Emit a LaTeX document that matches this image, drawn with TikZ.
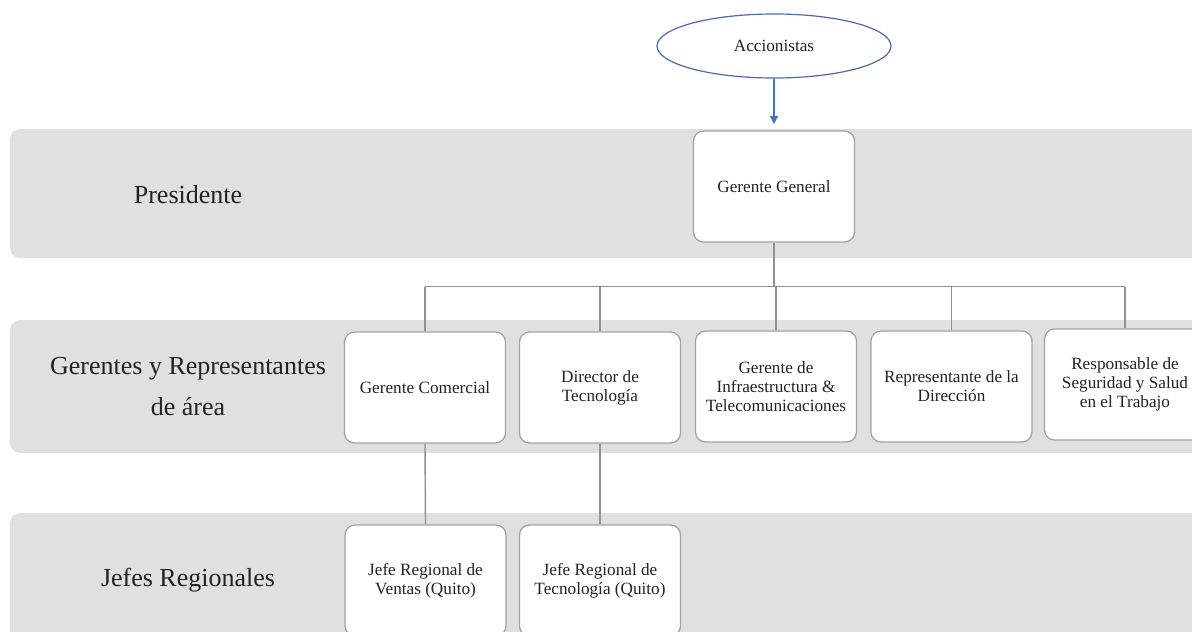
\documentclass[tikz,border=0pt]{standalone}
\usepackage{fontspec}
\setmainfont{Liberation Serif}
\usetikzlibrary{shapes.geometric,arrows.meta}
\definecolor{bandgray}{HTML}{E0E0E0}
\definecolor{boxborder}{HTML}{A3A3A3}
\definecolor{connline}{HTML}{909090}
\definecolor{ellblue}{HTML}{4A6AAA}
\definecolor{arrblue}{HTML}{4472C4}
\definecolor{txt}{HTML}{222222}
\begin{document}
\begin{tikzpicture}[x=1pt,y=-1pt,
  band/.style={fill=bandgray,rounded corners=10pt},
  orgbox/.style={draw=boxborder,line width=1.3pt,fill=white,rounded corners=10pt,
    minimum width=161pt,minimum height=111pt,inner sep=2pt,align=center,
    text=txt,font=\fontsize{17.2}{19}\selectfont},
  lab/.style={text=txt,align=center,font=\fontsize{26}{40}\selectfont},
  conn/.style={draw=connline,line width=1.4pt},
  ell/.style={ellipse,draw=ellblue,line width=1.2pt,minimum width=234pt,minimum height=64pt,
    inner sep=0pt,text=txt,font=\fontsize{17.2}{19}\selectfont}]
\useasboundingbox (0,0) rectangle (1192,632);
% bands
\fill[band] (10,129) rectangle (1215,258);
\fill[band] (10,320) rectangle (1215,453);
\fill[band] (10,513) rectangle (1215,660);
% left labels
\node[lab,anchor=base] (lpres) at (188,203) {Presidente};
\node[lab,anchor=base] (lger1) at (188,374) {Gerentes y Representantes};
\node[lab,anchor=base] (lger2) at (188,415) {de área};
\node[lab,anchor=base] (ljef) at (188,586) {Jefes Regionales};
% top
\node[ell] (acc) at (774,46) {Accionistas};
\node[orgbox] (gg) at (774,186.5) {Gerente General};
\draw[arrblue,line width=1.2pt,-{Triangle[length=8pt,width=8pt]}] (acc.south) -- (gg.north |- 0,124);
% level 2
\node[orgbox] (gc) at (425,387.5) {Gerente Comercial};
\node[orgbox] (dt) at (600,387.5) {Director de\\Tecnología};
\node[orgbox] (gi) at (776,386.5) {Gerente de\\Infraestructura \&\\Telecomunicaciones};
\node[orgbox] (rd) at (951.5,386.5) {Representante de la\\Dirección};
\node[orgbox] (rs) at (1125,384.5) {Responsable de\\Seguridad y Salud\\en el Trabajo};
% level 3
\node[orgbox] (jv) at (425.5,580.5) {Jefe Regional de\\Ventas (Quito)};
\node[orgbox] (jt) at (600,580.5) {Jefe Regional de\\Tecnología (Quito)};
% connectors
\draw[conn,line width=1.8pt] (gg.south) -- ++(0,44) coordinate (bus);
\draw[conn] (bus -| gc.north) -- (bus -| rs.north);
\foreach \n in {gc,dt,gi,rd,rs} \draw[conn] (bus -| \n.north) -- (\n.north);
\draw[conn] (gc.south) -- (jv.north);
\draw[conn] (dt.south) -- (jt.north);
\end{tikzpicture}
\end{document}
